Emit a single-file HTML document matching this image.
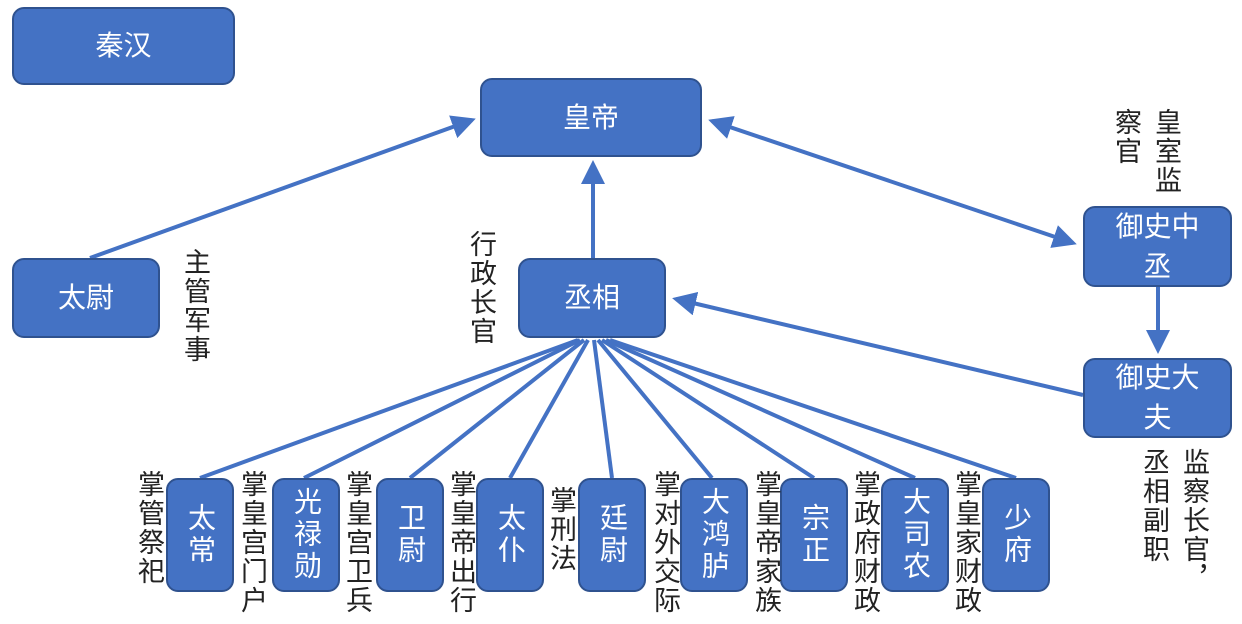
<!DOCTYPE html>
<html><head><meta charset="utf-8"><style>
body{margin:0;width:1242px;height:624px;background:#fff;position:relative;overflow:hidden;font-family:"Liberation Sans","Noto Sans CJK SC",sans-serif}
.b{position:absolute;background:#4472C4;border:2px solid #2F528F;border-radius:12px;box-sizing:border-box;color:#fff;font-size:28px;display:flex;align-items:center;justify-content:center;text-align:center;line-height:40px}
.v{writing-mode:vertical-rl;line-height:34px;letter-spacing:4px}
.t{position:absolute;writing-mode:vertical-rl;font-size:27px;color:#222;line-height:30px;letter-spacing:2px}
svg{position:absolute;left:0;top:0}
</style></head><body>
<svg width="1242" height="624"><defs><marker id="a" markerWidth="6" markerHeight="6" refX="5" refY="3" orient="auto-start-reverse" markerUnits="strokeWidth"><path d="M0,0L6,3L0,6z" fill="#4472C4"/></marker></defs>
<g stroke="#4472C4" stroke-width="4" fill="none">
<line x1="90" y1="258" x2="472" y2="120" marker-end="url(#a)"/>
<line x1="593" y1="258" x2="593" y2="164" marker-end="url(#a)"/>
<line x1="712" y1="121" x2="1073" y2="243" marker-end="url(#a)" marker-start="url(#a)"/>
<line x1="1158" y1="286" x2="1158" y2="350" marker-end="url(#a)"/>
<line x1="1083" y1="395" x2="676" y2="299" marker-end="url(#a)"/>
<line x1="578" y1="340" x2="200" y2="478"/>
<line x1="580" y1="340" x2="304" y2="478"/>
<line x1="584" y1="340" x2="410" y2="478"/>
<line x1="588" y1="340" x2="510" y2="478"/>
<line x1="594" y1="340" x2="612" y2="478"/>
<line x1="598" y1="340" x2="712" y2="478"/>
<line x1="602" y1="340" x2="814" y2="478"/>
<line x1="606" y1="340" x2="915" y2="478"/>
<line x1="610" y1="340" x2="1016" y2="478"/>
</g></svg>
<div class="b" style="left:12px;top:7px;width:223px;height:78px">秦汉</div>
<div class="b" style="left:480px;top:78px;width:222px;height:79px">皇帝</div>
<div class="b" style="left:12px;top:258px;width:148px;height:80px">太尉</div>
<div class="b" style="left:518px;top:258px;width:148px;height:80px">丞相</div>
<div class="b" style="left:1083px;top:206px;width:149px;height:81px;padding:0 20px">御史中丞</div>
<div class="b" style="left:1083px;top:358px;width:149px;height:80px;padding:0 20px">御史大夫</div>
<div class="b" style="left:166px;top:478px;width:68px;height:114px"><span class="v">太常</span></div>
<div class="b" style="left:272px;top:478px;width:68px;height:114px"><span class="v">光禄勋</span></div>
<div class="b" style="left:376px;top:478px;width:68px;height:114px"><span class="v">卫尉</span></div>
<div class="b" style="left:476px;top:478px;width:68px;height:114px"><span class="v">太仆</span></div>
<div class="b" style="left:578px;top:478px;width:68px;height:114px"><span class="v">廷尉</span></div>
<div class="b" style="left:680px;top:478px;width:68px;height:114px"><span class="v">大鸿胪</span></div>
<div class="b" style="left:780px;top:478px;width:68px;height:114px"><span class="v">宗正</span></div>
<div class="b" style="left:881px;top:478px;width:68px;height:114px"><span class="v">大司农</span></div>
<div class="b" style="left:982px;top:478px;width:68px;height:114px"><span class="v">少府</span></div>
<div class="t" style="left:180px;top:248px">主管军事</div>
<div class="t" style="left:466px;top:230px">行政长官</div>
<div class="t" style="left:1106px;top:108px;height:96px;line-height:40px">皇室监察官</div>
<div class="t" style="left:1134px;top:448px;height:150px;line-height:40px">监察长官，丞相副职</div>
<div class="t" style="left:134px;top:470px">掌管祭祀</div>
<div class="t" style="left:237px;top:470px">掌皇宫门户</div>
<div class="t" style="left:342px;top:470px">掌皇宫卫兵</div>
<div class="t" style="left:446px;top:470px">掌皇帝出行</div>
<div class="t" style="left:546px;top:486px">掌刑法</div>
<div class="t" style="left:650px;top:470px">掌对外交际</div>
<div class="t" style="left:751px;top:470px">掌皇帝家族</div>
<div class="t" style="left:850px;top:470px">掌政府财政</div>
<div class="t" style="left:951px;top:470px">掌皇家财政</div>
</body></html>
